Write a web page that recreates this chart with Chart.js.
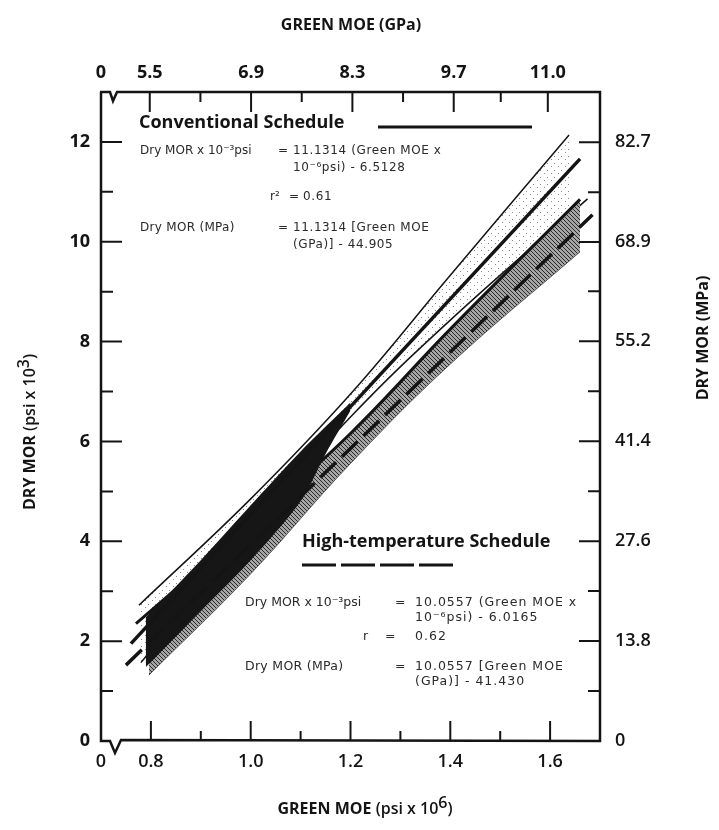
<!DOCTYPE html>
<html>
<head>
<meta charset="utf-8">
<script src="https://cdn.jsdelivr.net/npm/chart.js@4.4.0/dist/chart.umd.min.js"></script>
<style>
  html, body { margin: 0; padding: 0; background: #fff; }
  #wrap { width: 719px; height: 830px; }
</style>
</head>
<body>
<div id="wrap"><canvas id="moeChart" width="719" height="830"></canvas></div>
<script>
// unit conversions used by the secondary axes
const PSI_PER_GPA = 0.145038;   // 10^6 psi per GPa
const MPA_PER_KSI = 6.894757;   // MPa per 10^3 psi

// axis ticks
const xTickVals = [0.7, 0.8, 1.0, 1.2, 1.4, 1.6];
const xTickText = ['0', '0.8', '1.0', '1.2', '1.4', '1.6'];
const xMinorVals = [0.9, 1.1, 1.3, 1.5];
const gpaTickVals = [5.5, 6.9, 8.3, 9.7, 11.0];
const gpaTickText = ['5.5', '6.9', '8.3', '9.7', '11.0'];
const gpaMinorVals = [6.2, 7.6, 9.0, 10.35];
const yTickVals = [0, 2, 4, 6, 8, 10, 12];
const yMinorVals = [1, 3, 5, 7, 9, 11];
const mpaTickVals = [0, 13.8, 27.6, 41.4, 55.2, 68.9, 82.7];
const mpaTickText = ['0', '13.8', '27.6', '41.4', '55.2', '68.9', '82.7'];
const mpaMinorVals = [6.9, 20.7, 34.5, 48.3, 62.1, 75.8];

// lines (x = green MOE psi x 10^6, y = dry MOR psi x 10^3)
const convRegX = [0.76, 1.66];
const convRegY = [1.95, 11.66];
const convUpperX = [0.776, 1.0, 1.2, 1.4, 1.638];
const convUpperY = [2.72, 4.85, 6.95, 9.33, 12.14];
const convLowerX = [0.78, 1.0, 1.2, 1.4, 1.675];
const convLowerY = [1.57, 4.25, 6.49, 8.43, 10.86];
const htRegX = [0.75, 1.685];
const htRegY = [1.52, 10.54];
const htUpperX = [0.77, 1.0, 1.2, 1.4, 1.66];
const htUpperY = [2.35, 4.35, 6.16, 8.25, 10.85];
const htLowerX = [0.796, 1.0, 1.2, 1.4, 1.66];
const htLowerY = [1.32, 3.35, 5.56, 7.55, 9.80];
// dense black overlap at lower left
const darkTopX = [0.775, 0.9, 1.0, 1.1, 1.2];
const darkTopY = [2.32, 3.62, 4.72, 5.80, 6.78];
const darkBotX = [0.79, 0.9, 1.0, 1.1, 1.15, 1.2];
const darkBotY = [1.48, 2.60, 3.62, 4.80, 5.75, 6.62];

const pts = (xs, ys) => xs.map((x, i) => ({ x: x, y: ys[i] }));

function hatchPattern() {
    const c = document.createElement('canvas');
    c.width = 4; c.height = 4;
    const g = c.getContext('2d');
    g.fillStyle = '#a5a5a5';
    g.fillRect(0, 0, 4, 4);
    g.strokeStyle = '#2a2a2a';
    g.lineWidth = 1;
    g.beginPath();
    g.moveTo(0, 0); g.lineTo(4, 4);
    g.moveTo(-1, 3); g.lineTo(1, 5);
    g.moveTo(3, -1); g.lineTo(5, 1);
    g.stroke();
    return g.createPattern(c, 'repeat');
}

function stipplePattern() {
    const c = document.createElement('canvas');
    c.width = 7; c.height = 7;
    const g = c.getContext('2d');
    g.fillStyle = '#8a8a8a';
    g.fillRect(1, 2, 1, 1);
    g.fillRect(5, 5, 1, 1);
    return g.createPattern(c, 'repeat');
}

const INK = '#141414';
const boldFont = { family: "'Open Sans', sans-serif", size: 18, weight: 'bold' };
const plainFont = { family: "'Open Sans', sans-serif", size: 18, weight: '600' };

// draws frame with axis breaks, inward ticks, titles and the text blocks
const paperPlugin = {
    id: 'paper',
    afterDraw(chart) {
        const ctx = chart.ctx;
        const { left: L, right: R, top: T, bottom: B } = chart.chartArea;
        const sx = chart.scales.x, sx2 = chart.scales.x2, sy = chart.scales.y, sy2 = chart.scales.y2;
        ctx.save();
        ctx.strokeStyle = INK;
        ctx.lineCap = 'butt';
        ctx.lineWidth = 2.5;

        // frame with breaks
        ctx.beginPath();
        ctx.moveTo(L, T); ctx.lineTo(L, B);
        ctx.lineTo(L + 9, B); ctx.lineTo(L + 14, B + 12); ctx.lineTo(L + 20, B - 1); ctx.lineTo(R, B);
        ctx.lineTo(R, T);
        ctx.lineTo(L + 16, T); ctx.lineTo(L + 12, T + 9); ctx.lineTo(L + 9, T); ctx.lineTo(L - 1, T);
        ctx.stroke();

        // inward ticks
        ctx.lineWidth = 2;
        ctx.beginPath();
        xTickVals.slice(1).forEach(v => { const p = sx.getPixelForValue(v); ctx.moveTo(p, B); ctx.lineTo(p, B - 20); });
        xMinorVals.forEach(v => { const p = sx.getPixelForValue(v); ctx.moveTo(p, B); ctx.lineTo(p, B - 10); });
        gpaTickVals.forEach(v => { const p = sx2.getPixelForValue(v); ctx.moveTo(p, T); ctx.lineTo(p, T + 20); });
        gpaMinorVals.forEach(v => { const p = sx2.getPixelForValue(v); ctx.moveTo(p, T); ctx.lineTo(p, T + 10); });
        yTickVals.slice(1).forEach(v => { const p = sy.getPixelForValue(v); ctx.moveTo(L, p); ctx.lineTo(L + 21, p); });
        yMinorVals.forEach(v => { const p = sy.getPixelForValue(v); ctx.moveTo(L, p); ctx.lineTo(L + 12, p); });
        mpaTickVals.slice(1).forEach(v => { const p = sy2.getPixelForValue(v); ctx.moveTo(R, p); ctx.lineTo(R - 21, p); });
        mpaMinorVals.forEach(v => { const p = sy2.getPixelForValue(v); ctx.moveTo(R, p); ctx.lineTo(R - 12, p); });
        ctx.stroke();

        // axis titles
        ctx.fillStyle = INK;
        ctx.textBaseline = 'middle';
        ctx.textAlign = 'center';
        ctx.font = "bold 16px 'Open Sans', sans-serif";
        ctx.fillText('GREEN MOE (GPa)', 351, 25);

        const drawSup = (x, y, a, b, sup, c) => {
            ctx.textAlign = 'left';
            ctx.font = "bold 16px 'Open Sans', sans-serif";
            const wa = ctx.measureText(a).width;
            ctx.font = "600 16px 'Open Sans', sans-serif";
            const wb = ctx.measureText(b).width;
            const ws = ctx.measureText(sup).width;
            const wc = ctx.measureText(c).width;
            let cx = x - (wa + wb + ws + wc) / 2;
            ctx.font = "bold 16px 'Open Sans', sans-serif";
            ctx.fillText(a, cx, y); cx += wa;
            ctx.font = "600 16px 'Open Sans', sans-serif";
            ctx.fillText(b, cx, y); cx += wb;
            ctx.fillText(sup, cx, y - 6); cx += ws;
            ctx.fillText(c, cx, y);
        };
        drawSup(365, 809, 'GREEN MOE ', '(psi x 10', '6', ')');

        ctx.save();
        ctx.translate(30, 432);
        ctx.rotate(-Math.PI / 2);
        drawSup(0, 0, 'DRY MOR ', '(psi x 10', '3', ')');
        ctx.restore();

        ctx.save();
        ctx.translate(703, 338);
        ctx.rotate(-Math.PI / 2);
        ctx.textAlign = 'center';
        ctx.font = "bold 16px 'Open Sans', sans-serif";
        ctx.fillText('DRY MOR (MPa)', 0, 0);
        ctx.restore();

        // schedule keys
        ctx.textAlign = 'left';
        ctx.font = "bold 18px 'Open Sans', sans-serif";
        ctx.fillText('Conventional Schedule', 139, 123);
        ctx.fillText('High-temperature Schedule', 302, 542);
        ctx.lineWidth = 3;
        ctx.beginPath();
        ctx.moveTo(378, 127); ctx.lineTo(532, 127);
        ctx.stroke();
        ctx.setLineDash([34, 5]);
        ctx.beginPath();
        ctx.moveTo(302, 565); ctx.lineTo(455, 565);
        ctx.stroke();
        ctx.setLineDash([]);

        // regression equations
        ctx.fillStyle = '#2a2a2a';
        const blocks = [
            [140, 151, 'Dry MOR x 10\u207B\u00B3psi', '0px'], [278, 151, '=', '0px'], [293, 151, '11.1314 (Green MOE x', '0.6px'],
            [293, 168, '10\u207B\u2076psi) - 6.5128', '0.6px'],
            [270, 197, 'r\u00B2', '0px'], [289, 197, '=', '0px'], [303, 197, '0.61', '0.6px'],
            [140, 228, 'Dry MOR (MPa)', '0.3px'], [278, 228, '=', '0px'], [293, 228, '11.1314 [Green MOE', '0.6px'],
            [293, 245, '(GPa)] - 44.905', '0.6px'],
            [245, 603, 'Dry MOR x 10\u207B\u00B3psi', '0px'], [395, 603, '=', '0px'], [415, 603, '10.0557 (Green MOE x', '1px'],
            [415, 618, '10\u207B\u2076psi) - 6.0165', '1px'],
            [363, 637, 'r', '0px'], [385, 637, '=', '0px'], [415, 637, '0.62', '1px'],
            [245, 667, 'Dry MOR (MPa)', '0.3px'], [395, 667, '=', '0px'], [415, 667, '10.0557 [Green MOE', '1px'],
            [415, 682, '(GPa)] - 41.430', '1px']
        ];
        blocks.forEach((t, i) => {
            ctx.font = (i < 11 ? '12px' : '12.5px') + " 'DejaVu Sans', sans-serif";
            ctx.letterSpacing = t[3];
            ctx.fillText(t[2], t[0], t[1]);
        });
        ctx.restore();
    }
};

const hidden = { display: false, drawTicks: false };

new Chart(document.getElementById('moeChart'), {
    type: 'line',
    data: {
        datasets: [
            { label: 'High-temperature regression', data: pts(htRegX, htRegY), borderColor: INK, borderWidth: 3.5, borderDash: [22, 8], tension: 0, fill: false },
            { label: 'Conventional regression', data: pts(convRegX, convRegY), borderColor: INK, borderWidth: 3.5, tension: 0, fill: false },
            { label: 'dark bottom', data: pts(darkBotX, darkBotY), borderWidth: 0, borderColor: 'rgba(0,0,0,0)', tension: 0.3, fill: false },
            { label: 'dark top', data: pts(darkTopX, darkTopY), borderWidth: 0, borderColor: 'rgba(0,0,0,0)', tension: 0.3, fill: 2, backgroundColor: '#161616' },
            { label: 'HT lower', data: pts(htLowerX, htLowerY), borderColor: '#555', borderWidth: 1, tension: 0.4, fill: false },
            { label: 'HT upper', data: pts(htUpperX, htUpperY), borderColor: INK, borderWidth: 3, tension: 0.4, fill: 4, backgroundColor: hatchPattern() },
            { label: 'Conv lower', data: pts(convLowerX, convLowerY), borderColor: INK, borderWidth: 1.5, tension: 0.4, fill: false },
            { label: 'Conv upper', data: pts(convUpperX, convUpperY), borderColor: INK, borderWidth: 1.5, tension: 0.4, fill: 6, backgroundColor: stipplePattern() }
        ]
    },
    options: {
        responsive: false,
        animation: false,
        layout: { padding: 0 },
        elements: { point: { radius: 0, hoverRadius: 0 } },
        plugins: { legend: { display: false }, tooltip: { enabled: false } },
        scales: {
            x: {
                type: 'linear', position: 'bottom', min: 0.7, max: 1.7,
                grid: hidden, border: { display: false },
                afterBuildTicks: s => { s.ticks = xTickVals.map(v => ({ value: v })); },
                afterFit: s => { s.height = 89; },
                ticks: { autoSkip: false, maxRotation: 0, padding: 10, color: INK, font: plainFont, callback: (v, i) => xTickText[i] }
            },
            x2: {
                type: 'linear', position: 'top', min: 0.7 / PSI_PER_GPA, max: 1.7 / PSI_PER_GPA,
                grid: hidden, border: { display: false },
                afterBuildTicks: s => { s.ticks = [{ value: s.min }].concat(gpaTickVals.map(v => ({ value: v }))); },
                afterFit: s => { s.height = 92; },
                ticks: { autoSkip: false, maxRotation: 0, padding: 8, color: INK, font: boldFont, callback: (v, i) => (i === 0 ? '0' : gpaTickText[i - 1]) }
            },
            y: {
                type: 'linear', position: 'left', min: 0, max: 13,
                grid: hidden, border: { display: false },
                afterBuildTicks: s => { s.ticks = yTickVals.map(v => ({ value: v })); },
                afterFit: s => { s.width = 101; },
                ticks: { autoSkip: false, padding: 11, color: INK, font: boldFont, callback: (v, i) => String(yTickVals[i]) }
            },
            y2: {
                type: 'linear', position: 'right', min: 0, max: 13 * MPA_PER_KSI,
                grid: hidden, border: { display: false },
                afterBuildTicks: s => { s.ticks = mpaTickVals.map(v => ({ value: v })); },
                afterFit: s => { s.width = 119; },
                ticks: { autoSkip: false, padding: 15, color: INK, font: plainFont, callback: (v, i) => mpaTickText[i] }
            }
        }
    },
    plugins: [paperPlugin]
});
</script>
</body>
</html>
